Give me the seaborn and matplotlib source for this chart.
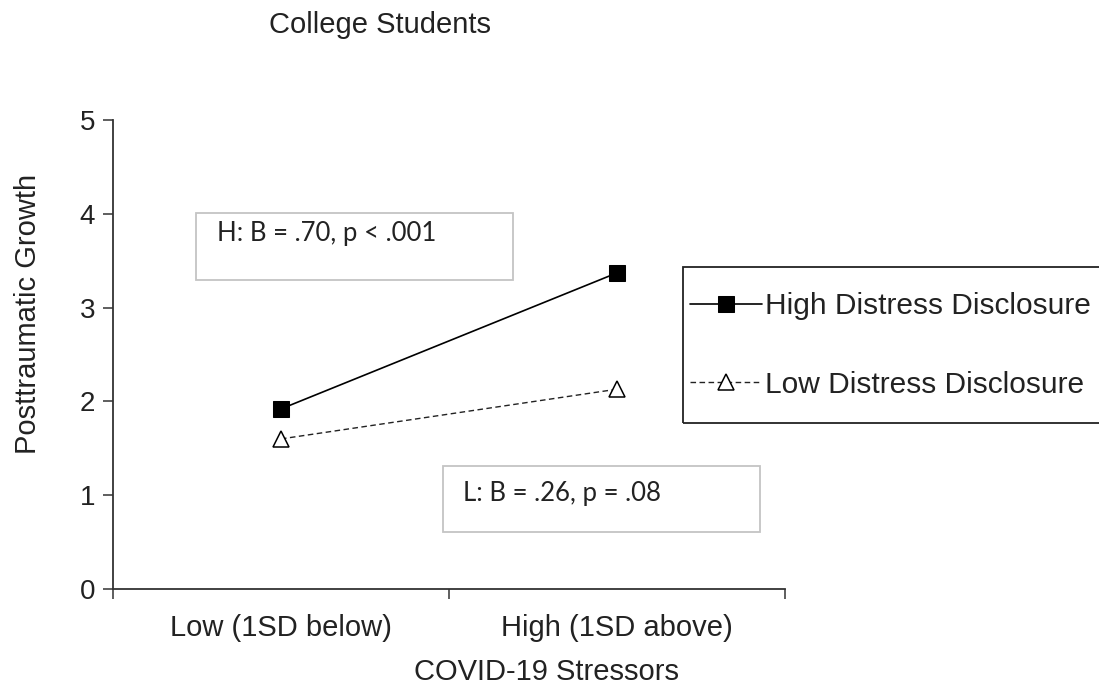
import pandas as pd
import matplotlib.pyplot as plt
import matplotlib.patches as patches
import seaborn as sns

# data
stress_levels = ["Low (1SD below)", "High (1SD above)"]
high_disclosure = [1.92, 3.37]
low_disclosure = [1.60, 2.13]
series_names = ["High Distress Disclosure", "Low Distress Disclosure"]
y_ticks = [0, 1, 2, 3, 4, 5]
note_high = "H: B = .70, p < .001"
note_low = "L: B = .26, p = .08"

df = pd.DataFrame({
    "stress": stress_levels * 2,
    "growth": high_disclosure + low_disclosure,
    "group": [series_names[0]] * 2 + [series_names[1]] * 2,
})

sns.set_style("ticks")
plt.rcParams["font.family"] = ["Liberation Sans", "DejaVu Sans"]

W, H = 1099, 687
fig = plt.figure(figsize=(W / 100, H / 100), dpi=100)
ax = fig.add_axes([113 / W, 1 - 589 / H, 672 / W, 469 / H])

hi = df[df["group"] == series_names[0]]
lo = df[df["group"] == series_names[1]]
sns.lineplot(data=hi, x="stress", y="growth", ax=ax, color="black", lw=1.2,
             marker="s", markersize=12, markerfacecolor="black",
             markeredgecolor="black", label=series_names[0])
sns.lineplot(data=lo, x="stress", y="growth", ax=ax, color="#222222", lw=1.0,
             linestyle=(0, (4, 2.5)), marker="^", markersize=11,
             markerfacecolor="white", markeredgecolor="black",
             markeredgewidth=1.1, label=series_names[1])

ax.set_xlim(-0.5, 1.5)
ax.set_ylim(0, 5)
ax.set_yticks(y_ticks)
ax.set_xticks([-0.5, 0.5, 1.5], labels=["", "", ""])
ax.set_xticks([0, 1], labels=stress_levels, minor=True)
ax.tick_params(axis="x", which="major", length=7, width=1.1, direction="out", color="#333333")
ax.tick_params(axis="x", which="minor", length=0, pad=18, labelsize=21, labelcolor="#222222")
ax.tick_params(axis="y", length=7, width=1.1, direction="out", pad=6, labelsize=20,
               labelcolor="#222222", color="#333333")
sns.despine(ax=ax)
for s in ["left", "bottom"]:
    ax.spines[s].set_linewidth(1.3)
    ax.spines[s].set_color("#333333")

ax.set_xlabel("COVID-19 Stressors", fontsize=21, color="#222222")
ax.xaxis.set_label_coords((546 - 113) / 672, (589 - 672) / 469)
ax.xaxis.label.set_va("center")
ax.set_ylabel("Posttraumatic Growth", fontsize=21, color="#222222")
ax.yaxis.set_label_coords((28 - 113) / 672, (589 - 314) / 469)
ax.yaxis.label.set_va("center")

fig.text(380 / W, 1 - 33 / H, "College Students", ha="center", va="baseline",
         fontsize=21, color="#222222")

# annotation boxes
def px_box(x0, y0, x1, y1, ec, lw):
    r = patches.Rectangle((x0 / W, 1 - y1 / H), (x1 - x0) / W, (y1 - y0) / H,
                          transform=fig.transFigure, fill=False, edgecolor=ec,
                          linewidth=lw, clip_on=False)
    fig.add_artist(r)

px_box(196, 213, 513, 280, "#c4c4c4", 1.3)
px_box(443, 466, 760, 532, "#c4c4c4", 1.3)
fig.text(217 / W, 1 - 234 / H, note_high, ha="left", va="center", fontsize=18.5,
         family=["Lato", "DejaVu Sans"], color="#222222")
fig.text(463 / W, 1 - 493 / H, note_low, ha="left", va="center", fontsize=18.5,
         family=["Lato", "DejaVu Sans"], color="#222222")

# legend with its own frame
px_box(683, 267, 1110, 423, "#222222", 1.3)
ax.legend(loc="upper left", bbox_to_anchor=(690 / W, 1 - 292 / H),
          bbox_transform=fig.transFigure, frameon=False, fontsize=21.5,
          handlelength=2.4, handletextpad=0.12, labelspacing=1.7,
          borderpad=0, borderaxespad=0, labelcolor="#222222")

fig.savefig("out.png", dpi=100)
